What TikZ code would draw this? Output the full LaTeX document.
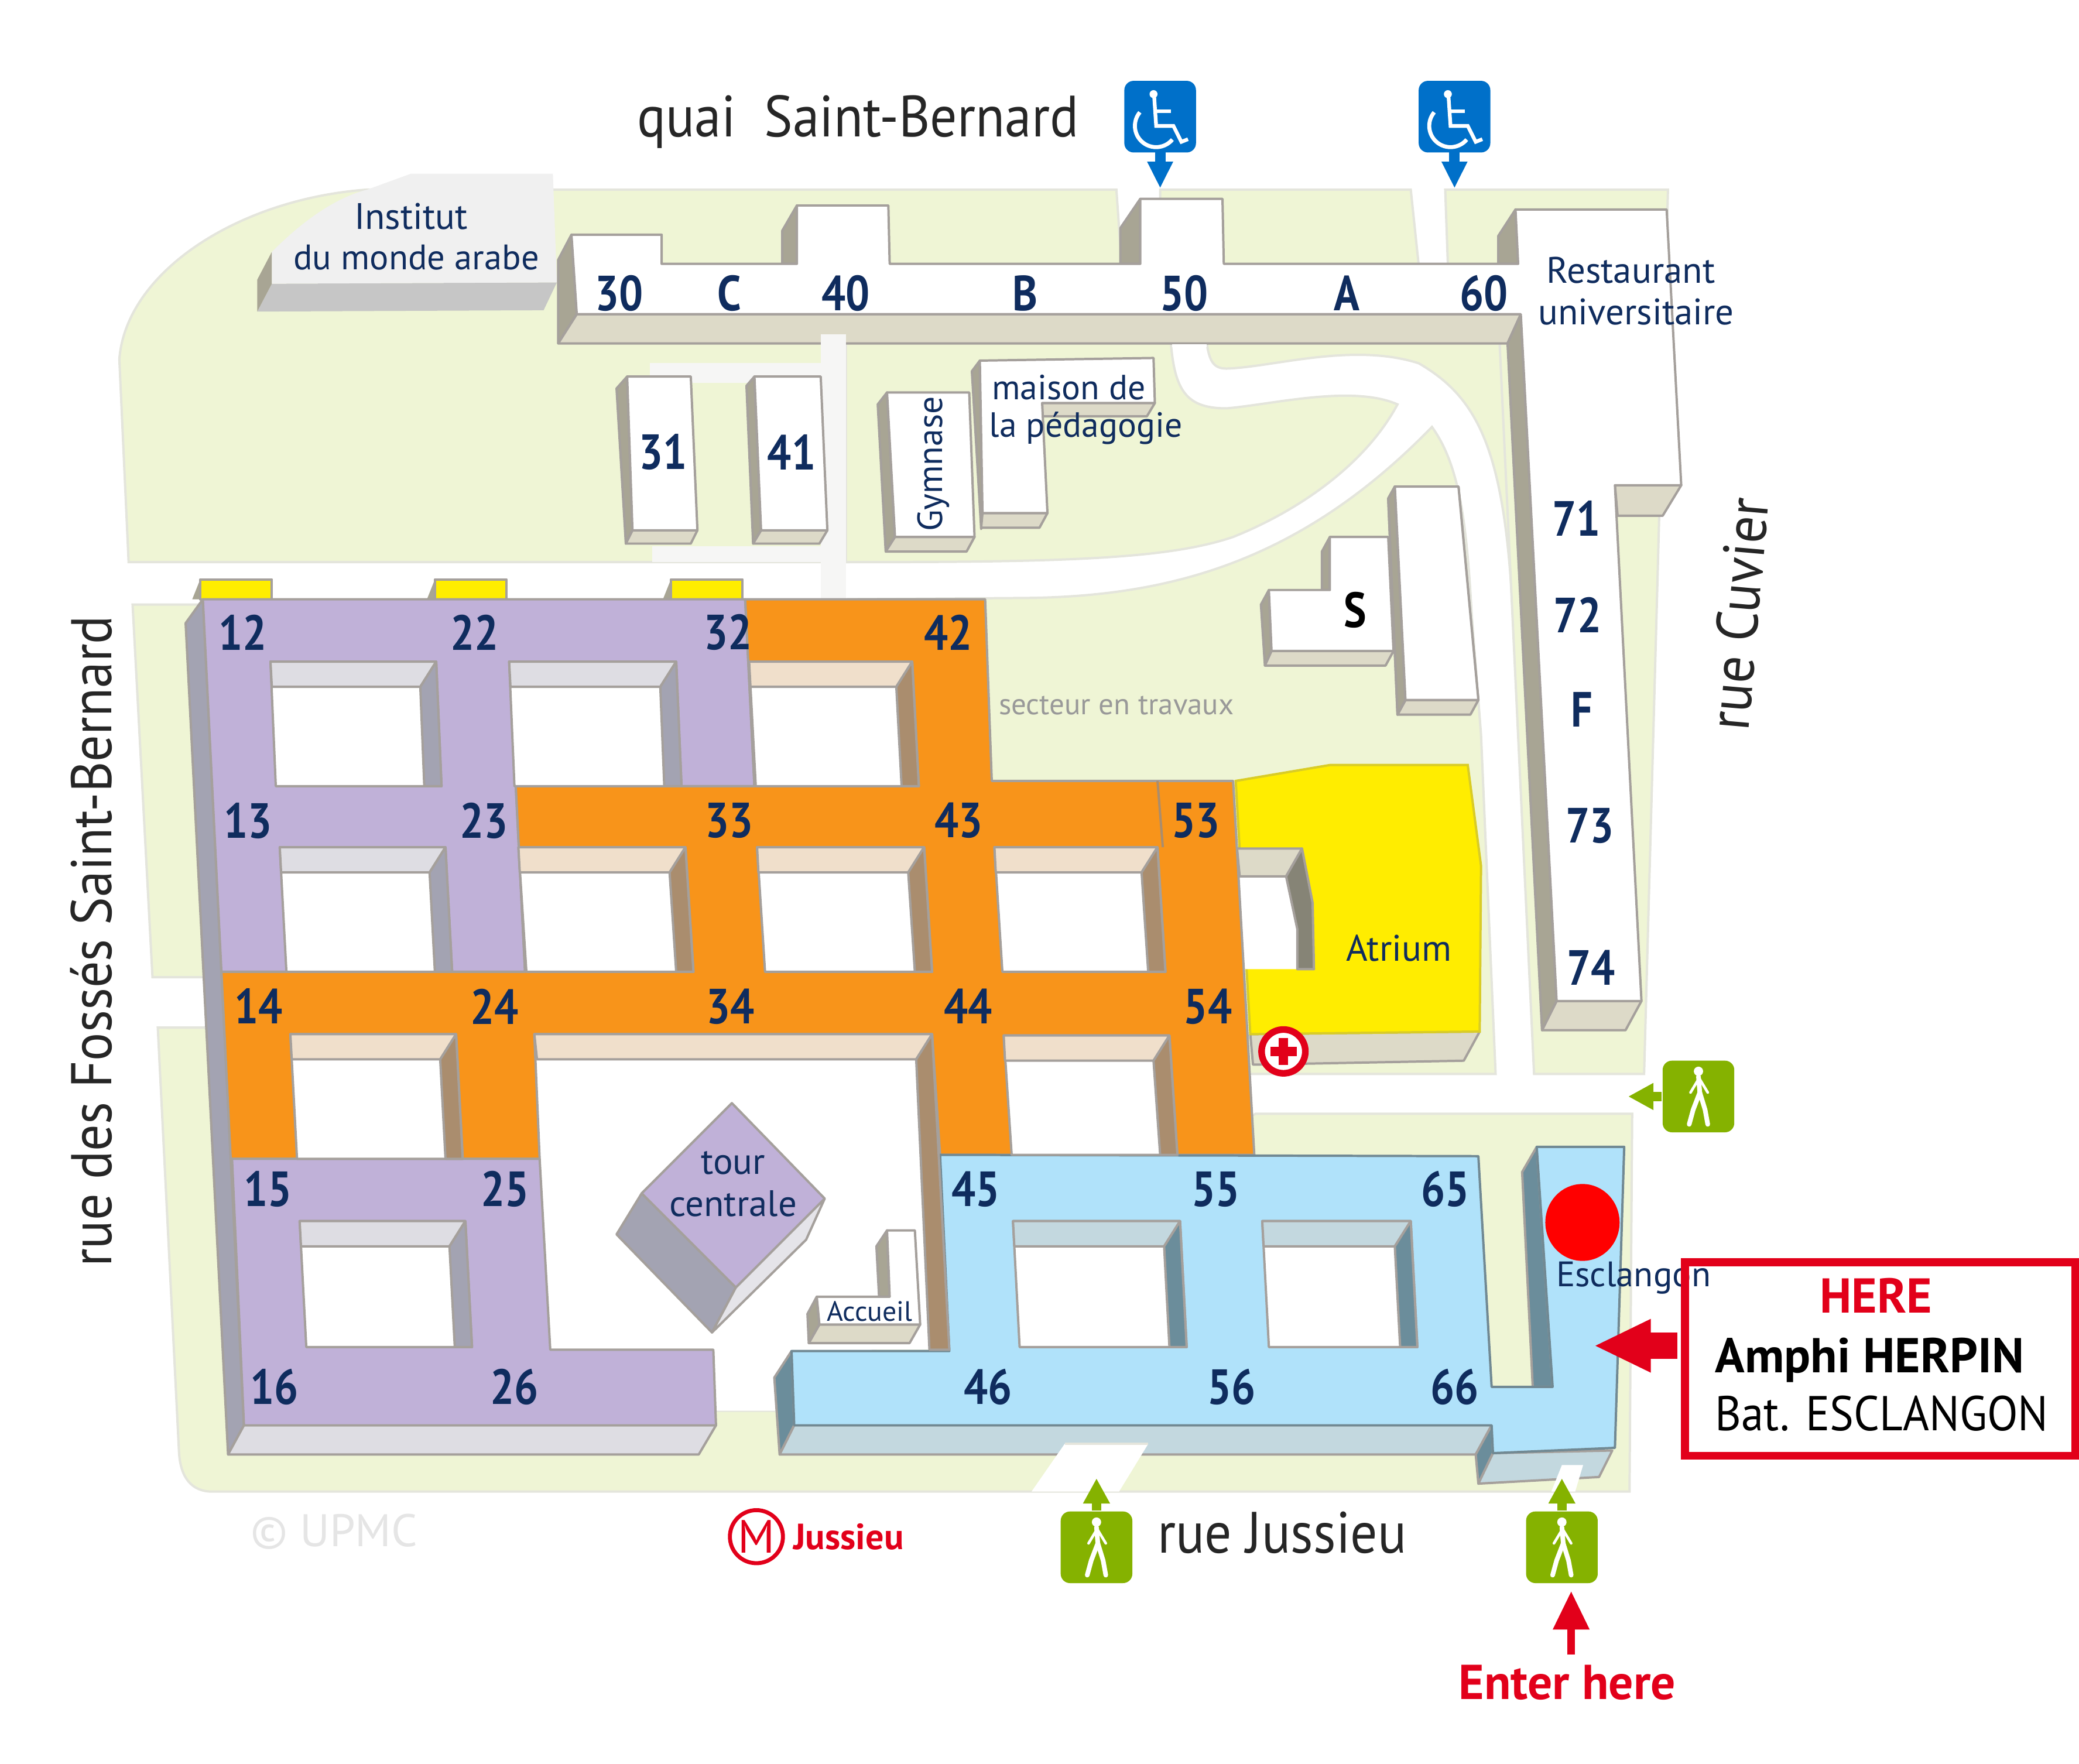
\documentclass[tikz,border=0pt]{standalone}
\usepackage{fontspec}
\setmainfont{PT Sans}
\newfontfamily\condfont[FakeStretch=0.86]{PT Sans}
\newfontfamily\streetfont[FakeStretch=0.92]{PT Sans}
\usetikzlibrary{arrows.meta}
\definecolor{navy}{HTML}{0F2C5E}
\definecolor{ground}{HTML}{EFF5D5}
\definecolor{groundedge}{HTML}{E4E5DC}
\definecolor{palepath}{HTML}{F6F6F5}
\definecolor{purplefill}{HTML}{C0B1D8}
\definecolor{orangefill}{HTML}{F8941A}
\definecolor{bluefill}{HTML}{B0E2FA}
\definecolor{pface}{HTML}{DEDDE3}
\definecolor{pwall}{HTML}{A3A3B2}
\definecolor{oface}{HTML}{F0DFCB}
\definecolor{owall}{HTML}{AA8D6E}
\definecolor{bface}{HTML}{C3D8DF}
\definecolor{bwall}{HTML}{6B8D9B}
\definecolor{gface}{HTML}{DDDAC8}
\definecolor{gwall}{HTML}{A8A594}
\definecolor{edgegrey}{HTML}{A5A09C}
\definecolor{atrium}{HTML}{FFED00}
\definecolor{herered}{HTML}{E2001A}
\definecolor{wheelblue}{HTML}{0070C9}
\definecolor{walkgreen}{HTML}{85B200}
\definecolor{instface}{HTML}{C6C6C6}
\tikzset{
	groundpart/.style={fill=ground, draw=groundedge, line width=0.5pt},
	block/.style={draw=edgegrey, line width=0.5pt, line join=round},
	numlab/.style={text=navy, inner sep=0pt, font=\condfont\bfseries\fontsize{10.6}{13}\selectfont},
	maplab/.style={text=navy, inner sep=0pt, font=\fontsize{7.9}{10}\selectfont},
	streetlab/.style={text=black!85, inner sep=0pt, font=\streetfont\fontsize{12.5}{15}\selectfont},
	wheelbox/.style={fill=wheelblue, rounded corners=0.07cm, minimum width=0.54cm, minimum height=0.54cm, inner sep=0pt},
	walkbox/.style={fill=walkgreen, rounded corners=0.07cm, minimum width=0.54cm, minimum height=0.54cm, inner sep=0pt},
	wheelarrow/.style={wheelblue, line width=0.08cm, -{Triangle[length=0.2cm,width=0.18cm]}},
	walkarrow/.style={walkgreen, line width=0.07cm, -{Triangle[length=0.19cm,width=0.19cm]}},
	pics/wheelchair/.style={code={
		\fill[white] (-5,-17) circle (3);
		\draw[white, line width=0.028cm] (-4.5,-15) -- (-3,7) -- (10,7) -- (16,19) -- (21,17);
		\draw[white, line width=0.028cm] (-4,-4) -- (8,-4);
		\draw[white, line width=0.03cm] (-15.3,-3.3) arc[start angle=220, end angle=40, x radius=16, y radius=16];
	}},
	pics/walker/.style={code={
		\fill[white] (0,-19) circle (3.5);
		\draw[white, line width=0.035cm, line cap=round] (0,-15) -- (1,-3) -- (-4,10) -- (-7,21);
		\draw[white, line width=0.035cm, line cap=round] (1,-3) -- (5,10) -- (7,21);
		\draw[white, line width=0.02cm, line cap=round] (0,-13) -- (-6,-3);
		\draw[white, line width=0.02cm, line cap=round] (1,-13) -- (7,-3);
	}},
}

\begin{document}
\begin{tikzpicture}[x=0.01cm,y=-0.01cm]
	\useasboundingbox (0,0) rectangle (1568,1330.4);

	% ground
	\draw[groundpart] (97,424) -- (90,271) .. controls (95,205) and (180,150) .. (277,143) -- (842,143) -- (846,200) -- (500,200) -- (500,258) -- (640,258) -- (640,424) -- cycle;
	\draw[groundpart] (638,258) -- (883,258) .. controls (886,295) and (895,308) .. (925,308) .. controls (960,305) and (1020,290) .. (1054,305) .. controls (1030,350) and (980,385) .. (930,405) .. controls (880,422) and (800,424) .. (638,424) -- cycle;
	\draw[groundpart] (910,258) .. controls (912,272) and (915,278) .. (925,278) .. controls (960,277) and (1020,258) .. (1070,274) .. controls (1115,300) and (1135,340) .. (1141,464) -- (1137,259) -- cycle;
	\draw[groundpart] (640,452) -- (773,451) .. controls (880,450) and (980,425) .. (1080,322) .. controls (1100,350) and (1106,390) .. (1110,464) -- (1117,554) -- (1128,810) -- (700,810) -- cycle;
	\draw[groundpart] (875,143) -- (1064,143) -- (1070,200) -- (875,200) -- cycle;
	\draw[groundpart] (1090,143) -- (1258,143) -- (1250,441) -- (1240,810) -- (1157,810) -- (1130,237) -- (1092,200) -- cycle;
	\draw[groundpart] (100,456) -- (155,456) -- (168,737) -- (115,737) -- cycle;
	\draw[groundpart] (119,775) -- (175,775) -- (190,1080) -- (540,1064) -- (585,1064) -- (947,840) -- (1231,840) -- (1229,1125) -- (160,1125) .. controls (145,1125) and (136,1115) .. (135,1095) -- cycle;

	% pale paths near 31 and 41
	\fill[palepath] (619,252) rectangle (638,452);
	\fill[palepath] (490,274) rectangle (619,289);
	\fill[palepath] (492,412) rectangle (619,424);

	% institut
	\fill[instface] (205,214) -- (420,213) -- (410,234) -- (194,235) -- cycle;
	\fill[gwall] (205,190) -- (194,211) -- (194,235) -- (205,214) -- cycle;
	\fill[black!6] (310,131) -- (417,131) -- (420,213) -- (205,214) -- (205,190) .. controls (225,170) and (250,150) .. (277,143) -- cycle;

	% north bar, restaurant and east wing
	\draw[block, fill=gwall] (431,177) -- (421,196) -- (421,259) -- (435,237) -- cycle;
	\draw[block, fill=gwall] (601,155) -- (590,174) -- (590,199) -- (601,199) -- cycle;
	\draw[block, fill=gwall] (860,150) -- (845,172) -- (845,199) -- (860,199) -- cycle;
	\draw[block, fill=gwall] (1143,158) -- (1130,178) -- (1130,199) -- (1145,199) -- cycle;
	\draw[block, fill=gface] (435,237) -- (1147,237) -- (1137,259) -- (421,259) -- cycle;
	\draw[block, fill=gface] (1218,366) -- (1268,366) -- (1254,389) -- (1220,389) -- cycle;
	\draw[block, fill=gface] (1174,755) -- (1238,755) -- (1226,777) -- (1163,777) -- cycle;
	\draw[block, fill=gwall] (1147,237) -- (1137,259) -- (1163,777) -- (1174,755) -- cycle;
	\draw[block, fill=white] (431,177) -- (499,177) -- (499,199) -- (601,199) -- (601,155) -- (670,155) -- (671,199) -- (860,199) -- (860,150) -- (922,150) -- (923,199) -- (1145,199) -- (1143,158) -- (1257,158) -- (1268,366) -- (1218,366) -- (1238,755) -- (1174,755) -- (1147,237) -- (435,237) -- cycle;
	\fill[palepath] (619,252) rectangle (638,260);
	\fill[white] (884,259.5) rectangle (910,262);

	% small buildings: white top, left wall, front face
	\foreach \tl/\tt/\tr/\br/\bb/\bl/\wl/\wt/\fl/\fr/\fb in {473/284/521/526/400/477/465/293/472/521/410, 569/284/619/624/400/574/563/291/568/618/410, 669/296/731/735/405/675/662/305/668/729/416, 1052/367/1100/1115/528/1060/1047/376/1054/1109/539} {
		\draw[block, fill=gwall] (\tl,\tt) -- (\wl,\wt) -- (\fl,\fb) -- (\bl,\bb) -- cycle;
		\draw[block, fill=gface] (\bl,\bb) -- (\br,\bb) -- (\fr,\fb) -- (\fl,\fb) -- cycle;
		\draw[block, fill=white] (\tl,\tt) -- (\tr,\tt) -- (\br,\bb) -- (\bl,\bb) -- cycle;
	}

	% maison de la pedagogie
	\draw[block, fill=gwall] (739,272) -- (733,280) -- (740,399) -- (741,387) -- cycle;
	\draw[block, fill=gface] (741,387) -- (790,387) -- (784,398) -- (740,398) -- cycle;
	\draw[block, fill=gface] (786,304) -- (871,304) -- (865,314) -- (786,314) -- cycle;
	\draw[block, fill=white] (739,272) -- (870,270) -- (871,304) -- (786,304) -- (790,387) -- (741,387) -- cycle;

	% S building, the tall block overlaps it
	\draw[block, fill=gwall] (1003,405) -- (997,416) -- (997,445) -- (1003,445) -- cycle;
	\draw[block, fill=gwall] (957,445) -- (951,456) -- (954,502) -- (959,491) -- cycle;
	\draw[block, fill=gface] (959,491) -- (1051,491) -- (1045,502) -- (954,502) -- cycle;
	\draw[block, fill=white] (957,445) -- (1003,445) -- (1003,405) -- (1047,405) -- (1051,491) -- (959,491) -- cycle;
	\draw[block, fill=gwall] (1052,367) -- (1047,376) -- (1054,539) -- (1060,528) -- cycle;
	\draw[block, fill=white] (1052,367) -- (1100,367) -- (1115,528) -- (1060,528) -- cycle;

	% yellow tabs
	\foreach \x in {151, 328, 506} {
		\fill[gwall] (\x,437) -- (\x-6,452) -- (\x,452) -- cycle;
		\draw[block, fill=atrium] (\x,437) rectangle (\x+54,452);
	}

	% atrium
	\draw[block, fill=gface] (943,780) -- (1116,778) -- (1104,800) -- (945,803) -- cycle;
	\draw[draw=atrium!70!gray, line width=0.5pt, fill=atrium] (932,589) -- (1003,577) -- (1107,577) -- (1117,653) -- (1116,778) -- (943,780) -- cycle;
	\fill[white] (933,640) -- (982,640) -- (978.5,731) -- (937,731) -- cycle;
	\draw[block, fill=gface] (933,640) -- (982,640) -- (970,661) -- (935,661) -- cycle;
	\draw[block, fill=gwall!80!black] (982,640) -- (990,681) -- (991,731) -- (978.5,731) -- (978.5,701) -- (970,661) -- cycle;

	% central court, white over the ground
	\fill[white] (403,780) -- (703,780) -- (716,1018) -- (597,1018) -- (585,1040) -- (587,1064) -- (540,1064) -- (538,1018) -- (415,1018) -- (407,874) -- cycle;

	% main wings
	\draw[block, fill=pwall] (153,452) -- (140,470) -- (172,1097) -- (184,1075) -- cycle;
	\draw[block, fill=pface] (184,1075) -- (540,1075) -- (527,1097) -- (172,1097) -- cycle;
	\draw[block, fill=purplefill] (153,452) -- (562,452) -- (569,593) -- (389,593) -- (396,733) -- (167,733) -- cycle;
	\draw[block, fill=orangefill] (562,452) -- (743,452) -- (748,589) -- (930,589) -- (946,871) -- (709,871) -- (703,780) -- (403,780) -- (407,874) -- (174,874) -- (167,733) -- (396,733) -- (389,593) -- (569,593) -- cycle;
	\draw[block, fill=purplefill] (175,874) -- (407,874) -- (415,1018) -- (538,1018) -- (540,1075) -- (184,1075) -- cycle;
	\draw[owall, line width=0.5pt] (873,589) -- (877,639);

	% blue wing
	\draw[block, fill=bwall] (597,1019) -- (584,1039) -- (588,1097) -- (599,1075) -- cycle;
	\draw[block, fill=bface] (599,1075) -- (1125,1075) -- (1113,1097) -- (588,1097) -- cycle;
	\draw[block, fill=bwall] (1125,1075) -- (1113,1097) -- (1115,1119) -- (1126,1096) -- cycle;
	\draw[block, fill=bface] (1126,1096) -- (1216,1094) -- (1206,1114) -- (1115,1119) -- cycle;
	\draw[block, fill=bwall] (1159,865) -- (1148,884) -- (1156,1046) -- (1171,1046) -- cycle;
	\draw[block, draw=bwall!70!gray, fill=bluefill] (709,871) -- (1115,872) -- (1125,1046) -- (1171,1046) -- (1159,865) -- (1225,865) -- (1218,1092) -- (1126,1096) -- (1125,1075) -- (599,1075) -- (597,1019) -- (716,1019) -- cycle;
	\fill[white] (803,1089) -- (866,1089) -- (844,1125) -- (778,1125) -- cycle;
	\draw[groundedge, line width=0.5pt] (803,1089) -- (866,1089);
	\fill[white] (1178,1105) -- (1194,1105) -- (1188,1125) -- (1170,1125) -- cycle;

	% courts: x, y, width, drift, height, top face, wall
	\foreach \x/\y/\w/\d/\h/\topc/\wallc in {204/499/125/4/94/pface/pwall, 384/499/126/4/94/pface/pwall, 565/499/123/5/94/oface/owall, 211/639/125/5/94/pface/pwall, 391/639/126/6/94/oface/owall, 571/639/126/6/94/oface/owall, 750/639/123/6/94/oface/owall, 219/780/125/5/94/oface/owall, 757/781/125/6/90/oface/owall, 226/921/125/5/95/pface/pwall, 764/921/126/5/95/bface/bwall, 952/921/112/5/95/bface/bwall} {
		\draw[block, fill=white] (\x,\y) -- (\x+\w,\y) -- (\x+\w+\d,\y+\h) -- (\x+\d,\y+\h) -- cycle;
		\draw[block, fill=\topc] (\x,\y) -- (\x+\w,\y) -- (\x+\w-12,\y+19) -- (\x+1,\y+19) -- cycle;
		\draw[block, fill=\wallc] (\x+\w,\y) -- (\x+\w+\d,\y+\h) -- (\x+\w+\d-13,\y+\h) -- (\x+\w-12,\y+19) -- cycle;
	}
	\draw[block, fill=oface] (403,780) -- (703,780) -- (691,799) -- (405,799) -- cycle;
	\draw[block, fill=owall] (703,780) -- (691,799) -- (701,1018) -- (716,1018) -- cycle;

	% tour centrale
	\draw[block, fill=pwall] (484,900) -- (465,931) -- (537,1005) -- (555,971) -- cycle;
	\draw[block, fill=pface!80!white] (622,904) -- (608,935) -- (537,1005) -- (555,971) -- cycle;
	\draw[block, fill=purplefill] (552,832) -- (622,904) -- (555,971) -- (484,900) -- cycle;

	% accueil
	\draw[block, fill=gwall] (669,928) -- (661,940) -- (663,978) -- (671,978) -- cycle;
	\draw[block, fill=gwall] (616,978) -- (609,991) -- (610,1013) -- (618,999) -- cycle;
	\draw[block, fill=gface] (618,999) -- (694,999) -- (686,1013) -- (610,1013) -- cycle;
	\draw[block, fill=white] (669,928) -- (690,928) -- (694,999) -- (618,999) -- (616,978) -- (671,978) -- cycle;

	% building numbers
	\foreach \t/\x/\y in {12/183/477, 22/358/477, 32/549/477, 42/715/477, 13/187/619, 23/365/619, 33/550/619, 43/723/619, 53/902/619, 14/195/759, 24/373/759, 34/551/759, 44/730/759, 54/911/759, 15/202/897, 25/381/897, 45/736/897, 55/917/897, 65/1090/897, 16/207/1046, 26/388/1046, 46/745/1046, 56/929/1046, 66/1097/1046, 30/467/221, C/550/221, 40/638/221, B/773/221, 50/893/221, A/1016/221, 60/1119/221, 31/500/341, 41/597/341, 71/1189/391, 72/1190/464, F/1193/535, 73/1199/623, 74/1200/730} {
		\node[numlab] (num\t) at (\x,\y) {\t};
	}
	\node[numlab, text=black] (numS) at (1022,460) {S};

	% other labels
	\node[maplab] (institutA) at (310,163) {Institut};
	\node[maplab, font=\fontsize{7.6}{10}\selectfont] (institutB) at (314,194) {du monde arabe};
	\node[maplab] (restoA) at (1230,204) {Restaurant};
	\node[maplab] (restoB) at (1234,235) {universitaire};
	\node[maplab, font=\fontsize{7.5}{10}\selectfont] (maisonA) at (806,292) {maison de};
	\node[maplab, font=\fontsize{7.5}{10}\selectfont] (maisonB) at (819,323) {la pédagogie};
	\node[maplab, rotate=90, font=\fontsize{7.5}{10}\selectfont] (gymnase) at (704,350) {Gymnase};
	\node[maplab] (atriumlab) at (1055,715) {Atrium};
	\node[maplab, text=black!40, font=\fontsize{6.4}{8}\selectfont] (travaux) at (842,532) {secteur en travaux};
	\node[maplab] (tour) at (553,877) {tour};
	\node[maplab] (centrale) at (553,908) {centrale};
	\node[maplab, font=\fontsize{6}{7}\selectfont] (accueil) at (656,989) {Accueil};
	\node[maplab, font=\fontsize{7.6}{9}\selectfont] (esclangon) at (1232,964) {Esclangon};
	\node[maplab, text=black!10, font=\fontsize{9.8}{11}\selectfont] (upmc) at (252,1155) {© UPMC};
	\node[maplab, text=herered, font=\bfseries\fontsize{7.8}{9}\selectfont] (jussieu) at (640,1159) {Jussieu};
	\node[streetlab] (quai) at (647,92) {quai\ \ Saint-Bernard};
	\node[streetlab] (rueJussieu) at (967,1156) {rue Jussieu};
	\node[streetlab, rotate=90, font=\streetfont\fontsize{12.3}{15}\selectfont] (rueFosses) at (69,710) {rue des Fossés Saint-Bernard};
	\node[streetlab, rotate=85] (rueCuvier) at (1311,463) {rue Cuvier};

	% metro and first aid
	\node[draw=herered, line width=0.03cm, circle, minimum size=0.4cm, inner sep=0pt, text=herered, font=\fontsize{10}{10}\selectfont] (metro) at (570.5,1159) {M};
	\node[draw=herered, line width=0.05cm, fill=white, circle, minimum size=0.33cm, inner sep=0pt] (firstaid) at (968,793) {};
	\fill[herered] (964.5,783) rectangle (971.5,803);
	\fill[herered] (958,789.5) rectangle (978,796.5);

	% wheelchair access
	\foreach \n/\x in {wheelA/875, wheelB/1097} {
		\coordinate (\n tip) at (\x,142);
		\draw[wheelarrow] (\x,115) -- (\n tip);
		\node[wheelbox] (\n) at (\x,88) {};
		\pic at (\n) {wheelchair};
	}

	% walking access
	\coordinate (walkEtip) at (1228,827);
	\coordinate (walkStip) at (827,1115);
	\coordinate (walkTtip) at (1178,1115);
	\node[walkbox] (walkE) at (1281,827) {};
	\node[walkbox] (walkS) at (827,1167) {};
	\node[walkbox] (walkT) at (1178,1167) {};
	\draw[walkarrow] (walkE.west) -- (walkEtip);
	\draw[walkarrow] (walkS.north) -- (walkStip);
	\draw[walkarrow] (walkT.north) -- (walkTtip);
	\foreach \n in {walkE, walkS, walkT} { \pic at (\n) {walker}; }

	% the marked room
	\fill[red] (1193.5,922) ellipse (28 and 29);
	\node[inner sep=0pt, text=herered, font=\bfseries\fontsize{10.5}{12}\selectfont] (herelab) at (1415,977) {HERE};
	\node[inner sep=0pt, anchor=west, font=\bfseries\fontsize{10.5}{12}\selectfont] (amphi) at (1293,1026) {Amphi HERPIN};
	\node[inner sep=0pt, anchor=west, font=\streetfont\fontsize{10.5}{12}\selectfont] (bat) at (1293,1066) {Bat. ESCLANGON};
	\node[draw=herered, line width=0.06cm, minimum width=2.94cm, minimum height=1.46cm, inner sep=0pt] (herebox) at (1418,1025) {};
	\coordinate (hereback) at (1265,1015);
	\coordinate (heretip) at (1202,1015);
	\draw[herered, line width=0.2cm, -{Triangle[length=0.43cm,width=0.37cm]}] (hereback) -- (heretip);

	% way in
	\node[inner sep=0pt, text=herered, font=\bfseries\fontsize{10.5}{12}\selectfont] (enter) at (1182,1269) {Enter here};
	\coordinate (enterback) at (1185,1248);
	\coordinate (entertip) at (1185,1200);
	\draw[herered, line width=0.06cm, -{Triangle[length=0.29cm,width=0.26cm]}] (enterback) -- (entertip);
\end{tikzpicture}
\end{document}
